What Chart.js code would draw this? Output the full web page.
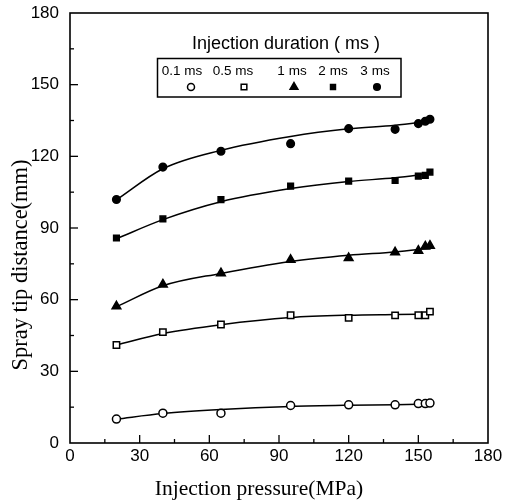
<!DOCTYPE html>
<html>
<head>
<meta charset="utf-8">
<script src="https://cdn.jsdelivr.net/npm/chart.js@4"></script>
<style>
  html, body { margin: 0; padding: 0; background: #fff; }
  #wrap { width: 508px; height: 501px; }
</style>
</head>
<body>
<div id="wrap"><canvas id="c" width="508" height="501"></canvas></div>
<script>
// ---- data ----
const pressure = [20, 40, 65, 95, 120, 140, 150, 153, 155];
const ms01 = [10, 12.5, 12.5, 15.7, 16, 16, 16.5, 16.5, 16.7];
const ms05 = [41, 46.4, 49.6, 53.5, 52.4, 53.4, 53.5, 53.5, 55];
const ms1  = [57.2, 66.4, 71.1, 76.7, 77.4, 79.8, 80.5, 82.3, 82.6];
const ms2  = [85.8, 93.8, 101.9, 107.5, 109.6, 109.9, 111.7, 112, 113.4];
const ms3  = [101.9, 115.5, 122.1, 125.3, 131.6, 131.3, 133.7, 134.7, 135.5];

// fitted curves
const fitX  = [20, 40, 65, 95, 120, 140, 155];
const fit01 = [10, 12.3, 14, 15.3, 15.8, 16, 16.3];
const fit05 = [41, 45.8, 49.5, 52.5, 53.5, 53.8, 54];
const fit1  = [57, 65.8, 71, 76, 78.6, 80, 81.5];
const fit2  = [85.5, 93.5, 101, 106.5, 109.5, 111, 112.8];
const fit3  = [101.8, 114.8, 122.5, 128.3, 131.5, 133, 134.8];

const seriesNames = ['0.1 ms', '0.5 ms', '1 ms', '2 ms', '3 ms'];
const xTicks = [0, 30, 60, 90, 120, 150, 180];
const yTicks = [0, 30, 60, 90, 120, 150, 180];
const legendTitle = 'Injection duration ( ms )';
const xTitle = 'Injection pressure(MPa)';
const yTitle = 'Spray tip distance(mm)';

const pts = (xs, ys) => xs.map((x, i) => ({ x: x, y: ys[i] }));

const styles = [
  { pointStyle: 'circle',   radius: 4,   fill: '#fff' },
  { pointStyle: 'rect',     radius: 4.5, fill: '#fff' },
  { pointStyle: 'triangle', radius: 5,   fill: '#000' },
  { pointStyle: 'rect',     radius: 4,   fill: '#000' },
  { pointStyle: 'circle',   radius: 3.8, fill: '#000' }
];
const pointSeries = [ms01, ms05, ms1, ms2, ms3];
const fitSeries = [fit01, fit05, fit1, fit2, fit3];

const datasets = [];
pointSeries.forEach((s, i) => {
  datasets.push({
    label: seriesNames[i],
    data: pts(pressure, s),
    showLine: false,
    pointStyle: styles[i].pointStyle,
    pointRadius: styles[i].radius,
    pointBackgroundColor: styles[i].fill,
    pointBorderColor: '#000',
    pointBorderWidth: 1.5,
    order: 0
  });
});
fitSeries.forEach((s, i) => {
  datasets.push({
    label: seriesNames[i] + ' fit',
    data: pts(fitX, s),
    showLine: true,
    borderColor: '#000',
    borderWidth: 1.5,
    pointRadius: 0,
    cubicInterpolationMode: 'monotone',
    fill: false,
    order: 1
  });
});

const decor = {
  id: 'decor',
  afterDraw(chart) {
    const ctx = chart.ctx;
    const a = chart.chartArea;
    const xs = chart.scales.x, ys = chart.scales.y;
    ctx.save();
    ctx.strokeStyle = '#000';
    ctx.lineWidth = 1.6;
    // frame
    ctx.strokeRect(a.left, a.top, a.right - a.left, a.bottom - a.top);
    // inward ticks
    ctx.lineWidth = 1.3;
    for (let v = 15; v < 180; v += 15) {
      const len = (v % 30 === 0) ? 8 : 4;
      const px = xs.getPixelForValue(v);
      ctx.beginPath(); ctx.moveTo(px, a.bottom); ctx.lineTo(px, a.bottom - len); ctx.stroke();
      const py = ys.getPixelForValue(v);
      ctx.beginPath(); ctx.moveTo(a.left, py); ctx.lineTo(a.left + len, py); ctx.stroke();
    }
    // axis titles
    ctx.fillStyle = '#000';
    ctx.textAlign = 'center';
    ctx.textBaseline = 'middle';
    ctx.font = "21.5px 'Liberation Serif', 'DejaVu Serif', serif";
    ctx.fillText(xTitle, 259, 489);
    ctx.save();
    ctx.translate(21, 265);
    ctx.rotate(-Math.PI / 2);
    ctx.font = "22.5px 'Liberation Serif', 'DejaVu Serif', serif";
    ctx.fillText(yTitle, 0, 0);
    ctx.restore();
    // legend
    ctx.font = "18px 'Liberation Sans', Arial, sans-serif";
    ctx.fillText(legendTitle, 286, 44);
    ctx.lineWidth = 1.5;
    ctx.strokeRect(157.5, 58.5, 243.5, 38.5);
    ctx.font = "13.5px 'Liberation Sans', Arial, sans-serif";
    const labelX = [182, 233, 292, 333, 375];
    const markX = [191, 244, 294, 333, 377];
    seriesNames.forEach((n, i) => {
      ctx.fillStyle = '#000';
      ctx.fillText(n, labelX[i], 71);
      ctx.fillStyle = styles[i].fill;
      ctx.strokeStyle = '#000';
      ctx.lineWidth = 1.5;
      Chart.helpers.drawPoint(ctx, {
        pointStyle: styles[i].pointStyle,
        radius: styles[i].radius - 0.5,
        borderWidth: 1.5,
        rotation: 0
      }, markX[i], 87);
    });
    ctx.restore();
  }
};

new Chart(document.getElementById('c'), {
  type: 'scatter',
  data: { datasets: datasets },
  options: {
    responsive: false,
    animation: false,
    devicePixelRatio: 1,
    layout: { padding: { left: 0, right: 20, top: 13, bottom: 0 } },
    plugins: { legend: { display: false }, tooltip: { enabled: false }, title: { display: false } },
    scales: {
      x: {
        type: 'linear', min: 0, max: 180,
        afterFit(s) { s.height = 58; },
        afterBuildTicks(s) { s.ticks = xTicks.map(v => ({ value: v })); },
        grid: { display: false, drawTicks: false },
        border: { display: false },
        ticks: { padding: 3, color: '#000', maxRotation: 0, autoSkip: false,
                 font: { family: "'Liberation Sans', Arial, sans-serif", size: 17 } }
      },
      y: {
        type: 'linear', min: 0, max: 180,
        afterFit(s) { s.width = 70; s.paddingTop = 0; s.paddingBottom = 0; },
        afterBuildTicks(s) { s.ticks = yTicks.map(v => ({ value: v })); },
        grid: { display: false, drawTicks: false },
        border: { display: false },
        ticks: { padding: 11, color: '#000', autoSkip: false,
                 font: { family: "'Liberation Sans', Arial, sans-serif", size: 17, lineHeight: 0.6 } }
      }
    }
  },
  plugins: [decor]
});
</script>
</body>
</html>
